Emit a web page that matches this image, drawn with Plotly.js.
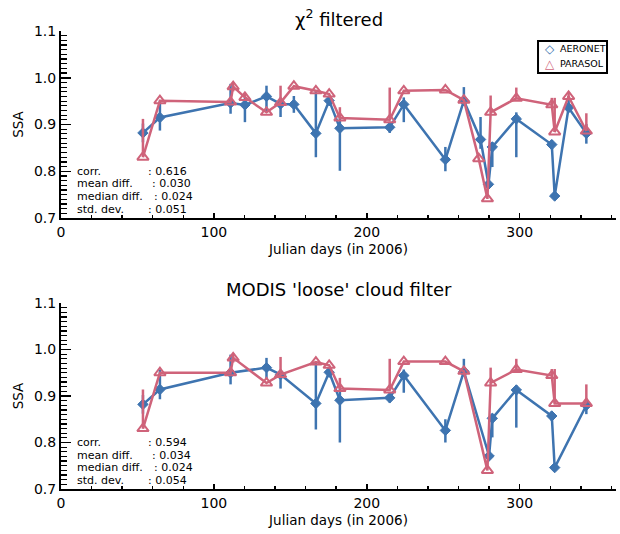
<!DOCTYPE html>
<html>
<head>
<meta charset="utf-8">
<script src="https://cdn.plot.ly/plotly-3.0.1.min.js"></script>
<style>html,body{margin:0;padding:0;background:#fff;}#chart{width:620px;height:534px;}</style>
</head>
<body>
<div id="chart"></div>
<script>
// ---------- Data: chi^2 filtered (top panel) ----------
const topAeronetDays = [53.6, 64.7, 110.9, 120.3, 134.4, 143.6, 152.3, 166.7, 175.4, 182.4, 215.0, 224.2, 251.4, 263.5, 274.4, 279.6, 282.1, 297.8, 321.0, 322.9, 332.0, 343.6];
const topAeronetSSA  = [0.882, 0.915, 0.946, 0.942, 0.960, 0.944, 0.943, 0.881, 0.951, 0.892, 0.894, 0.943, 0.825, 0.951, 0.868, 0.772, 0.852, 0.912, 0.857, 0.747, 0.936, 0.881];
const topAeronetErrUp   = [0.020, 0.036, 0.041, 0.016, 0.023, 0.010, 0.018, 0.091, 0.010, 0.024, 0.012, 0.015, 0.027, 0.029, 0.048, 0.000, 0.010, 0.014, 0.010, 0.000, 0.025, 0.020];
const topAeronetErrDown = [0.020, 0.028, 0.023, 0.037, 0.032, 0.028, 0.018, 0.051, 0.010, 0.091, 0.012, 0.038, 0.025, 0.010, 0.020, 0.000, 0.043, 0.082, 0.010, 0.000, 0.010, 0.022];

const topParasolDays = [53.6, 64.7, 110.9, 112.6, 120.3, 134.4, 143.6, 152.3, 166.7, 175.4, 182.4, 215.0, 224.2, 251.4, 263.5, 273.2, 278.9, 281.0, 297.8, 321.0, 322.9, 332.0, 343.6];
const topParasolSSA  = [0.830, 0.951, 0.948, 0.981, 0.958, 0.926, 0.947, 0.982, 0.972, 0.965, 0.914, 0.910, 0.972, 0.974, 0.952, 0.827, 0.741, 0.926, 0.956, 0.942, 0.884, 0.960, 0.886];
const topParasolErrUp   = [0.082, 0.000, 0.000, 0.010, 0.010, 0.000, 0.036, 0.000, 0.000, 0.000, 0.023, 0.069, 0.000, 0.000, 0.000, 0.000, 0.000, 0.036, 0.023, 0.015, 0.073, 0.008, 0.038];
const topParasolErrDown = [0.000, 0.000, 0.000, 0.010, 0.000, 0.000, 0.000, 0.000, 0.000, 0.000, 0.000, 0.000, 0.000, 0.000, 0.000, 0.000, 0.000, 0.000, 0.000, 0.000, 0.000, 0.008, 0.000];

// ---------- Data: MODIS 'loose' cloud filter (bottom panel) ----------
const botAeronetDays = [53.6, 64.7, 110.9, 134.4, 143.6, 166.7, 175.4, 182.4, 215.0, 224.2, 251.4, 263.5, 280.0, 282.1, 297.8, 321.0, 322.9, 343.6];
const botAeronetSSA  = [0.882, 0.914, 0.950, 0.961, 0.946, 0.884, 0.951, 0.891, 0.896, 0.944, 0.826, 0.953, 0.771, 0.852, 0.913, 0.857, 0.746, 0.880];
const botAeronetErrUp   = [0.020, 0.043, 0.039, 0.021, 0.010, 0.087, 0.010, 0.025, 0.010, 0.013, 0.024, 0.027, 0.000, 0.010, 0.010, 0.010, 0.000, 0.010];
const botAeronetErrDown = [0.020, 0.021, 0.025, 0.025, 0.030, 0.056, 0.010, 0.091, 0.010, 0.037, 0.026, 0.010, 0.000, 0.041, 0.081, 0.010, 0.000, 0.019];

const botParasolDays = [53.6, 64.7, 110.9, 112.6, 134.4, 143.6, 166.7, 175.4, 182.4, 215.0, 224.2, 251.4, 263.5, 278.9, 281.0, 297.8, 321.0, 322.9, 343.6];
const botParasolSSA  = [0.830, 0.950, 0.950, 0.982, 0.928, 0.946, 0.973, 0.966, 0.916, 0.913, 0.974, 0.974, 0.953, 0.740, 0.928, 0.957, 0.944, 0.884, 0.884];
const botParasolErrUp   = [0.084, 0.000, 0.000, 0.010, 0.000, 0.038, 0.000, 0.000, 0.023, 0.067, 0.000, 0.000, 0.000, 0.000, 0.033, 0.023, 0.014, 0.074, 0.041];
const botParasolErrDown = [0.000, 0.000, 0.000, 0.010, 0.000, 0.000, 0.000, 0.000, 0.000, 0.000, 0.000, 0.000, 0.000, 0.000, 0.000, 0.000, 0.000, 0.000, 0.000];

// ---------- Text ----------
const panelTitles = ['χ<sup>2</sup> filtered', "MODIS 'loose' cloud filter"];
const seriesNames = ['AERONET', 'PARASOL'];
const legendSymbols = ['◇', '△'];
const statLabels = ['corr.', 'mean diff.', 'median diff.', 'std. dev.'];
const topStats = ['0.616', '0.030', '0.024', '0.051'];
const botStats = ['0.594', '0.034', '0.024', '0.054'];
const xTickVals = [0, 100, 200, 300];
const yTickVals = [0.7, 0.8, 0.9, 1.0, 1.1];

// ---------- Style ----------
const BLUE = 'rgb(62,116,176)';
const RED = 'rgb(207,99,122)';
const FONT = 'DejaVu Sans, Verdana, sans-serif';

function seriesTrace(name, x, y, up, down, color, symbol, xa, ya) {
  return {
    type: 'scatter', mode: 'lines+markers', name: name, x: x, y: y, xaxis: xa, yaxis: ya,
    showlegend: false, cliponaxis: true,
    line: {color: color, width: 2.5},
    marker: symbol === 'diamond'
      ? {symbol: 'diamond', size: 8, color: color, line: {color: color, width: 1}}
      : {symbol: 'triangle-up-open', size: 10, color: color, line: {color: color, width: 2}},
    error_y: {type: 'data', symmetric: false, array: up, arrayminus: down, color: color, thickness: 2.5, width: 0}
  };
}

const traces = [
  seriesTrace(seriesNames[0], topAeronetDays, topAeronetSSA, topAeronetErrUp, topAeronetErrDown, BLUE, 'diamond', 'x', 'y'),
  seriesTrace(seriesNames[1], topParasolDays, topParasolSSA, topParasolErrUp, topParasolErrDown, RED, 'triangle', 'x', 'y'),
  seriesTrace(seriesNames[0], botAeronetDays, botAeronetSSA, botAeronetErrUp, botAeronetErrDown, BLUE, 'diamond', 'x2', 'y2'),
  seriesTrace(seriesNames[1], botParasolDays, botParasolSSA, botParasolErrUp, botParasolErrDown, RED, 'triangle', 'x2', 'y2')
];

const XR = [0, 363];
const YR = [0.7, 1.1];
const topDom = [0.5917, 1];
const botDom = [0, 0.4061];

function xAxis(anchor) {
  return {
    anchor: anchor, domain: [0, 1], range: XR, tickvals: xTickVals, ticks: 'inside', ticklen: 5, tickwidth: 1.5,
    tickcolor: '#000', minor: {dtick: 20, ticks: 'inside', ticklen: 3, tickwidth: 1.5, tickcolor: '#000'},
    showline: true, linewidth: 2, linecolor: '#000', showgrid: false, zeroline: false,
    tickfont: {family: FONT, size: 14, color: '#000'},
    title: {text: 'Julian days (in 2006)', standoff: 6, font: {family: FONT, size: 13.5, color: '#000'}}
  };
}
function xTop(overlay, anchor) {
  return {
    overlaying: overlay, anchor: anchor, side: 'top', range: XR, tickvals: xTickVals, ticks: 'inside', ticklen: 4, tickwidth: 1.5,
    tickcolor: '#000', minor: {dtick: 20, ticks: 'inside', ticklen: 2, tickwidth: 1.5, tickcolor: '#000'},
    showline: true, linewidth: 2, linecolor: '#000', showgrid: false, zeroline: false, showticklabels: false
  };
}
function yAxis(anchor, dom) {
  return {
    anchor: anchor, domain: dom, range: YR, tickvals: yTickVals, tickformat: '.1f', ticks: 'inside', ticklen: 10, tickwidth: 1.5,
    tickcolor: '#000', minor: {dtick: 0.01, ticks: 'inside', ticklen: 6, tickwidth: 1.2, tickcolor: '#000'},
    showline: true, linewidth: 2, linecolor: '#000', showgrid: false, zeroline: false,
    tickfont: {family: FONT, size: 14, color: '#000'},
    title: {text: 'SSA', font: {family: FONT, size: 13.5, color: '#000'}}
  };
}
function yRight(overlay, anchor) {
  return {
    overlaying: overlay, anchor: anchor, side: 'right', range: YR, tickvals: yTickVals, ticks: 'inside', ticklen: 6, tickwidth: 1.5,
    tickcolor: '#000', minor: {dtick: 0.01, ticks: 'inside', ticklen: 2, tickwidth: 1.2, tickcolor: '#000'},
    showline: true, linewidth: 2, linecolor: '#000', showgrid: false, zeroline: false, showticklabels: false
  };
}

const annotations = [];
const statY = [0.799, 0.773, 0.746, 0.719];
const labelX = 9.8;
const colonX = [56.2, 58.6, 60.3, 56.4];
[[topStats, 'x', 'y'], [botStats, 'x2', 'y2']].forEach(function (p) {
  statLabels.forEach(function (lab, i) {
    annotations.push({xref: p[1], yref: p[2], x: labelX, y: statY[i], text: lab, showarrow: false,
      xanchor: 'left', yanchor: 'middle', font: {family: FONT, size: 11, color: '#000'}, borderpad: 0});
    annotations.push({xref: p[1], yref: p[2], x: colonX[i], y: statY[i], text: ': ' + p[0][i], showarrow: false,
      xanchor: 'left', yanchor: 'middle', font: {family: FONT, size: 11, color: '#000'}, borderpad: 0});
  });
});
annotations.push({xref: 'paper', yref: 'paper', x: 0.5, y: 1.028, text: panelTitles[0], showarrow: false,
  xanchor: 'center', yanchor: 'middle', font: {family: FONT, size: 18, color: '#000'}});
annotations.push({xref: 'paper', yref: 'paper', x: 0.5, y: 0.4345, text: panelTitles[1], showarrow: false,
  xanchor: 'center', yanchor: 'middle', font: {family: FONT, size: 18, color: '#000'}});

// hand-drawn legend box (top panel)
const legRowY = [0.9607, 0.9285];
const legColors = [BLUE, RED];
seriesNames.forEach(function (nm, i) {
  annotations.push({xref: 'paper', yref: 'paper', x: 0.881, y: legRowY[i], text: '<b>' + legendSymbols[i] + '</b>', showarrow: false,
    xanchor: 'center', yanchor: 'middle', font: {family: FONT, size: 12, color: legColors[i]}, borderpad: 0});
  annotations.push({xref: 'paper', yref: 'paper', x: 0.8975, y: legRowY[i], text: nm, showarrow: false,
    xanchor: 'left', yanchor: 'middle', font: {family: FONT, size: 9.5, color: '#000'}, borderpad: 0});
});

const layout = {
  width: 620, height: 534,
  margin: {l: 61, r: 4, t: 31, b: 45, pad: 0},
  paper_bgcolor: '#fff', plot_bgcolor: '#fff',
  font: {family: FONT, color: '#000'},
  showlegend: false,
  xaxis: xAxis('y'),
  yaxis: yAxis('x', topDom),
  xaxis2: xAxis('y2'),
  yaxis2: yAxis('x2', botDom),
  xaxis3: xTop('x', 'y'),
  yaxis3: yRight('y', 'x'),
  xaxis4: xTop('x2', 'y2'),
  yaxis4: yRight('y2', 'x2'),
  shapes: [{type: 'rect', xref: 'paper', yref: 'paper', x0: 0.8595, x1: 0.9838, y0: 0.9083, y1: 0.9782,
    line: {color: '#000', width: 2}, fillcolor: '#fff', layer: 'above'}],
  annotations: annotations
};

Plotly.newPlot('chart', traces, layout, {staticPlot: true, displayModeBar: false});
</script>
</body>
</html>
